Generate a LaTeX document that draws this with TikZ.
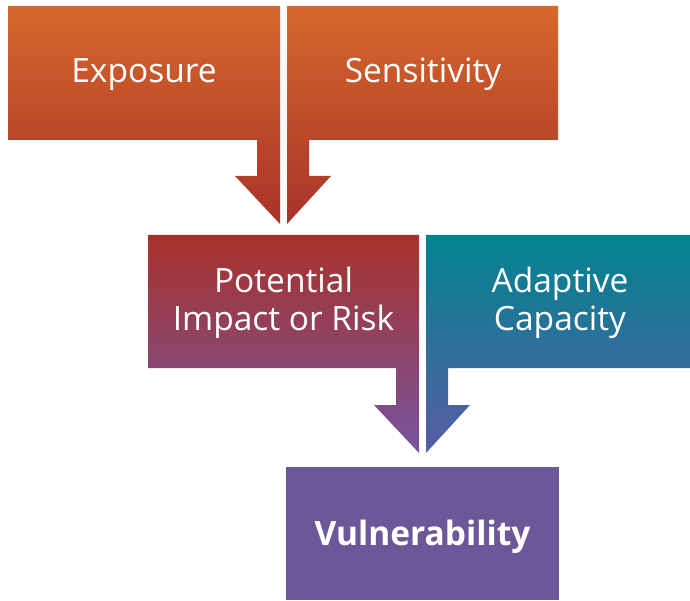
\documentclass[tikz,border=0pt]{standalone}
\usepackage{fontspec}
\setmainfont{Open Sans}
\definecolor{orgtop}{HTML}{D6682B}
\definecolor{orgbot}{HTML}{A8322A}
\definecolor{redtop}{HTML}{A8322A}
\definecolor{redbot}{HTML}{7654A0}
\definecolor{teatop}{HTML}{00848F}
\definecolor{teabot}{HTML}{5A5CA5}
\definecolor{vulfill}{HTML}{6C5799}
\tikzset{
  lbl/.style={text=white, font=\fontsize{33.5}{38}\selectfont, align=center, inner sep=0pt},
  blbl/.style={lbl, font=\fontsize{33.5}{38}\selectfont\bfseries},
  orangeshape/.style={top color=orgtop, bottom color=orgbot, draw=none},
  redshape/.style={top color=redtop, bottom color=redbot, draw=none},
  tealshape/.style={top color=teatop, bottom color=teabot, draw=none}
}
\begin{document}
\begin{tikzpicture}[x=1pt,y=-1pt]
\useasboundingbox (0,0) rectangle (690,601);
% top row
\path[orangeshape] (8,6) -- (280,6) -- (280,224) -- (235,176) -- (257,176) -- (257,140) -- (8,140) -- cycle;
\path[orangeshape] (287,6) -- (558,6) -- (558,140) -- (309,140) -- (309,176) -- (331,176) -- (287,224) -- cycle;
% middle row
\path[redshape] (148,235) -- (419,235) -- (419,453) -- (374,405) -- (396,405) -- (396,368) -- (148,368) -- cycle;
\path[tealshape] (426,235) -- (690,235) -- (690,368) -- (448,368) -- (448,405) -- (470,405) -- (426,453) -- cycle;
% bottom
\path[fill=vulfill] (286,467) rectangle (559,600);
% labels
\node[lbl, anchor=base] (exp) at (144,83) {Exposure};
\node[lbl, anchor=base] (sen) at (423,83) {Sensitivity};
\node[lbl] (pot) at (283.5,303) {Potential\\Impact or Risk};
\node[lbl] (ada) at (560,303) {Adaptive\\Capacity};
\node[blbl, anchor=base] (vul) at (422.5,545) {Vulnerability};
\end{tikzpicture}
\end{document}
